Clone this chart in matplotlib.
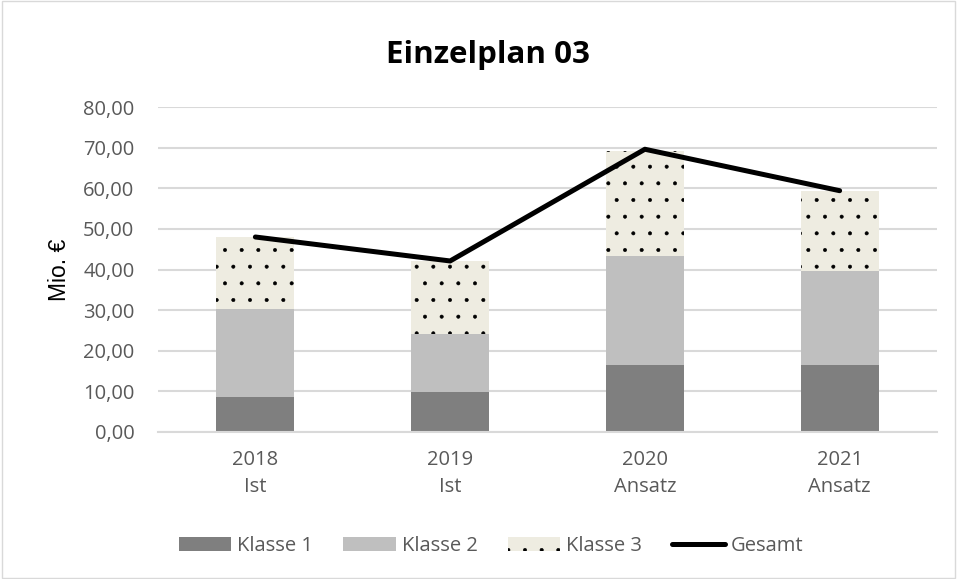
import matplotlib.pyplot as plt
import numpy as np
from matplotlib.patches import Rectangle

plt.rcParams['font.family'] = ['Open Sans', 'DejaVu Sans']
plt.rcParams['hatch.linewidth'] = 0.4

# data (Mio. €)
categories = ["2018\nIst", "2019\nIst", "2020\nAnsatz", "2021\nAnsatz"]
klasse1 = np.array([8.7, 9.9, 16.5, 16.5])
klasse2 = np.array([21.6, 14.2, 26.8, 23.1])
klasse3 = np.array([17.8, 18.1, 25.9, 19.8])
gesamt = np.array([48.0, 42.1, 69.6, 59.4])

x = np.arange(len(categories))

fig = plt.figure(figsize=(9.57, 5.79), dpi=100)
ax = fig.add_axes([158 / 957, 1 - 432 / 579, 779 / 957, 325 / 579])

b1 = ax.bar(x, klasse1, width=0.4, color="#7F7F7F", label="Klasse 1", zorder=2)
b2 = ax.bar(x, klasse2, width=0.4, bottom=klasse1, color="#BFBFBF", label="Klasse 2", zorder=2)
b3 = ax.bar(x, klasse3, width=0.4, bottom=klasse1 + klasse2, facecolor="#EEECE1",
            hatch=".", edgecolor="black", linewidth=0, label="Klasse 3", zorder=2)
l1, = ax.plot(x, gesamt, color="black", linewidth=3.6, solid_capstyle="round",
              label="Gesamt", zorder=3)

ax.set_xlim(-0.5, 3.5)
ax.set_ylim(0, 80)
ax.set_yticks(np.arange(0, 81, 10))
ax.set_yticklabels([f"{v:.2f}".replace(".", ",") for v in np.arange(0, 81, 10)])
ax.set_xticks(x)
ax.set_xticklabels(categories, linespacing=1.45)
ax.tick_params(length=0, labelsize=14.5, colors="#595959")
ax.tick_params(axis="x", pad=13)
ax.tick_params(axis="y", pad=17)
ax.grid(axis="y", color="#D9D9D9", linewidth=1.5, zorder=0)
for s in ["top", "right", "left"]:
    ax.spines[s].set_visible(False)
ax.spines["bottom"].set_color("#D9D9D9")
ax.spines["bottom"].set_linewidth(1.5)

ax.set_ylabel("Mio. €", fontsize=16.5, family="Liberation Sans")
ax.yaxis.set_label_coords(-0.112, 0.5)
fig.text(488 / 957, 1 - 55 / 579, "Einzelplan 03", ha="center", va="center",
         fontsize=22.5, fontweight="bold")

fig.legend([b1, b2, b3, l1], ["Klasse 1", "Klasse 2", "Klasse 3", "Gesamt"],
           loc="center", bbox_to_anchor=(491 / 957, 1 - 546 / 579), ncol=4,
           frameon=False, fontsize=14.5, labelcolor="#595959",
           handlelength=2.6, handleheight=0.7, handletextpad=0.3, columnspacing=1.5)

fig.patches.append(Rectangle((0.002, 0.002), 0.996, 0.996, transform=fig.transFigure,
                             fill=False, edgecolor="#D9D9D9", linewidth=1))

fig.savefig("out.png", dpi=100)
